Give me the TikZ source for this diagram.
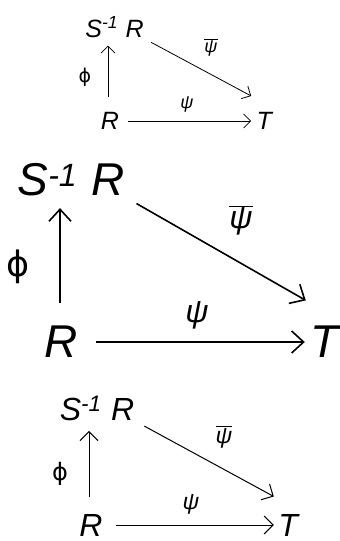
\documentclass[tikz,border=0pt]{standalone}
\usepackage{fontspec}
\setmainfont{Liberation Sans}
\newfontfamily\greekfont{DejaVu Sans}
\usetikzlibrary{arrows.meta}

\newcommand{\SinvR}{\textit{S}\textsuperscript{\textit{-1}}\hspace{0.3em}\textit{R}}
\newcommand{\ringR}{\textit{R}}
\newcommand{\ringT}{\textit{T}}
\newcommand{\mapphi}{{\greekfont ϕ}}
\newcommand{\mappsi}{\textit{ψ}}
\newcommand{\mappsibar}{$\overline{\mbox{\itshape ψ}}$}

\tikzset{
  obj/.style={inner sep=0pt},
  map/.style 2 args={-{Straight Barb[length=#1,width=#2]}},
}

\begin{document}
\begin{tikzpicture}[x=1pt,y=-1pt]
\useasboundingbox (0,0) rectangle (340,541);
%
\begin{scope}[font=\fontsize{25}{30}\selectfont, line width=0.8pt]
    \node[obj] (a1) at (114.5,27.5) {\SinvR};
    \node[obj] (b1) at (110,121) {\ringR};
    \node[obj] (c1) at (265,121) {\ringT};
    \node[obj,font=\fontsize{19}{23}\selectfont] (p1) at (85,77) {\mapphi};
    \node[obj,font=\fontsize{18}{22}\selectfont] (q1) at (187,104) {\mappsi};
    \node[obj,font=\fontsize{18}{22}\selectfont] (r1) at (211,47) {\mappsibar};

\draw [map={7pt}{14pt}, shorten <=15pt, shorten >=7pt] ([xshift=-2pt]b1.north) -- ([xshift=-2pt]b1.north |- a1.south);
\draw [map={7pt}{14pt}, shorten <=9pt, shorten >=5pt] (b1.east) -- (c1.west);
\draw [map={7pt}{14pt}, shorten <=8pt] (a1.south east) -- ([shift={(-5pt,16pt)}]c1.north west);
\end{scope}
%
\begin{scope}[font=\fontsize{46}{54}\selectfont, line width=1.6pt]
    \node[obj] (a2) at (71,180) {\SinvR};
    \node[obj] (b2) at (61,342) {\ringR};
    \node[obj] (c2) at (326,342) {\ringT};
    \node[obj,font=\fontsize{35}{42}\selectfont] (p2) at (18,267) {\mapphi};
    \node[obj,font=\fontsize{32}{38}\selectfont] (q2) at (197,315) {\mappsi};
    \node[obj,font=\fontsize{32}{38}\selectfont] (r2) at (241,220) {\mappsibar};

\draw [map={12pt}{22pt}, shorten <=22.5pt, shorten >=11pt] ([xshift=-1pt]b2.north) -- ([xshift=-1pt]b2.north |- a2.south);
\draw [map={12pt}{22pt}, shorten <=17.5pt, shorten >=5pt] (b2.east) -- (c2.west);
\draw [map={12pt}{22pt}, shorten <=13pt] (a2.south east) -- ([shift={(-4pt,25pt)}]c2.north west);
\end{scope}
%
\begin{scope}[font=\fontsize{32}{38}\selectfont, line width=1pt]
    \node[obj] (a3) at (97,408) {\SinvR};
    \node[obj] (b3) at (91,525) {\ringR};
    \node[obj] (c3) at (289,525) {\ringT};
    \node[obj,font=\fontsize{24}{29}\selectfont] (p3) at (60,474) {\mapphi};
    \node[obj,font=\fontsize{23}{28}\selectfont] (q3) at (191,504) {\mappsi};
    \node[obj,font=\fontsize{23}{28}\selectfont] (r3) at (224,437) {\mappsibar};

\draw [map={9pt}{18pt}, shorten <=16pt, shorten >=10pt] ([xshift=-2pt]b3.north) -- ([xshift=-2pt]b3.north |- a3.south);
\draw [map={9pt}{18pt}, shorten <=12.5pt, shorten >=4pt] (b3.east) -- (c3.west);
\draw [map={9pt}{18pt}, shorten <=11pt] (a3.south east) -- ([shift={(-4pt,17pt)}]c3.north west);
\end{scope}
\end{tikzpicture}
\end{document}
